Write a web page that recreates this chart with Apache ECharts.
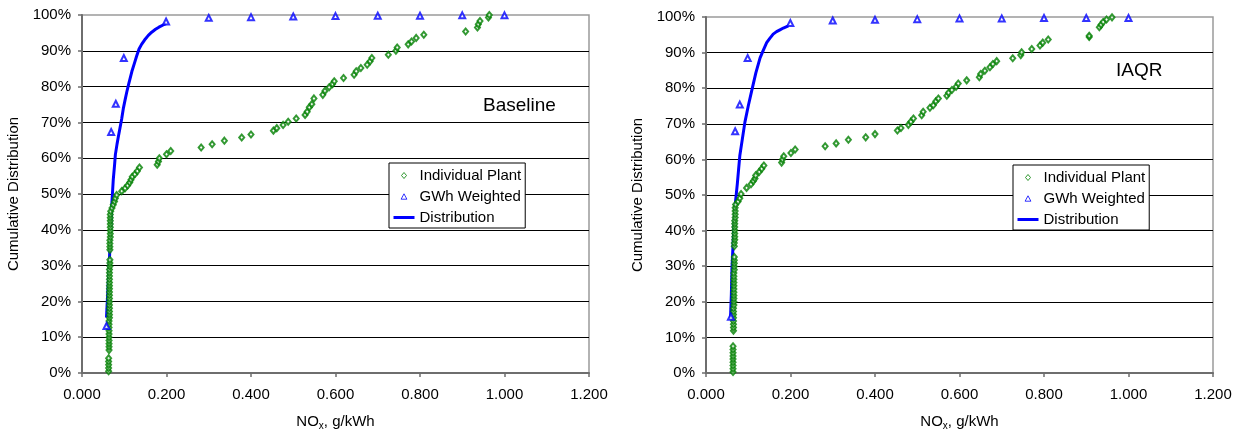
<!DOCTYPE html>
<html>
<head>
<meta charset="utf-8">
<script src="https://cdn.jsdelivr.net/npm/echarts@6/dist/echarts.min.js"></script>
<style>
html,body{margin:0;padding:0;background:#fff;}
#chart{width:1239px;height:436px;}
</style>
</head>
<body>
<div id="chart"></div>
<script>
// ---------- data ----------
const xTicks = [0, 0.2, 0.4, 0.6, 0.8, 1.0, 1.2];
const yTicks = [0, 10, 20, 30, 40, 50, 60, 70, 80, 90, 100];
const seriesNames = ['Individual Plant', 'GWh Weighted', 'Distribution'];
const panelTitles = ['Baseline', 'IAQR'];

const plantBaseline = [
 [0.063,0.5],[0.063,1.4],[0.063,2.3],[0.063,3.2],[0.063,4.1],
 [0.064,6.4],[0.064,7.3],[0.064,8.2],[0.064,9.1],[0.064,10.0],[0.064,10.9],[0.064,11.8],[0.064,12.7],[0.064,13.6],[0.064,14.5],
 [0.065,15.4],[0.065,16.3],[0.065,17.2],[0.065,18.1],[0.065,19.0],[0.065,19.9],[0.065,20.8],[0.065,21.7],[0.065,22.6],[0.065,23.5],
 [0.065,24.4],[0.065,25.3],[0.065,26.2],[0.065,27.1],[0.065,28.0],[0.065,28.9],[0.066,29.8],[0.066,30.7],[0.066,31.6],
 [0.066,34.4],[0.066,35.3],[0.066,36.2],[0.066,37.1],[0.067,38.0],[0.067,38.9],[0.067,39.8],[0.067,40.7],[0.067,41.6],
 [0.067,42.5],[0.067,43.4],[0.067,44.3],[0.068,45.2],
 [0.071,46.1],[0.074,47.0],[0.077,47.9],[0.079,48.8],[0.082,49.7],
 [0.094,50.8],[0.102,51.6],[0.108,52.4],[0.113,53.2],[0.116,54.0],[0.119,54.8],[0.125,55.5],[0.131,56.4],[0.136,57.4],
 [0.178,58.2],[0.181,59.1],[0.183,60.0],[0.200,61.1],[0.210,62.0],
 [0.282,63.0],[0.308,63.9],[0.337,64.9],[0.378,65.8],[0.400,66.6],
 [0.453,67.7],[0.461,68.4],[0.476,69.3],[0.488,70.2],[0.507,71.1],
 [0.528,72.1],[0.533,73.0],[0.538,74.2],[0.544,75.1],[0.549,76.7],[0.570,77.7],[0.575,78.8],[0.585,79.8],[0.593,80.7],
 [0.597,81.5],[0.619,82.4],[0.644,83.3],[0.649,84.3],[0.660,85.2],[0.675,86.1],[0.682,87.1],[0.686,88.0],[0.725,88.9],
 [0.743,90.0],[0.746,90.9],[0.772,91.8],[0.780,92.6],[0.791,93.6],[0.809,94.5],[0.908,95.4],[0.936,96.5],[0.938,97.4],
 [0.942,98.3],[0.962,99.3],[0.964,100]
];
const gwhBaseline = [
 [0.058,13.1],[0.069,67.3],[0.080,75.2],[0.099,88.0],[0.199,98.2],[0.3,99.2],[0.4,99.4],
 [0.5,99.6],[0.6,99.7],[0.7,99.8],[0.8,99.8],[0.9,99.9],[1.0,99.9]
];
const distBaseline = [
 [0.058,15.5],[0.062,25],[0.065,32],[0.066,35],[0.068,40],[0.070,46],[0.072,50],[0.074,54],[0.077,58],
 [0.079,61],[0.083,64],[0.086,66],[0.090,68.5],[0.094,71],[0.098,74],[0.102,76.3],[0.106,78.5],[0.110,80.5],
 [0.118,84.2],[0.124,86.5],[0.129,88.4],[0.135,90.5],[0.141,91.8],[0.148,93],[0.157,94.3],[0.165,95.2],
 [0.174,96],[0.182,96.6],[0.192,97.2],[0.199,97.6]
];

const plantIAQR = [
 [0.064,0.3],[0.064,1.2],[0.064,2.1],[0.064,3.0],[0.064,3.9],[0.064,4.8],[0.064,5.7],[0.064,6.6],[0.064,7.5],
 [0.065,11.9],[0.065,12.8],[0.065,13.7],[0.065,14.6],[0.065,15.5],[0.065,16.4],[0.065,17.3],[0.065,18.2],
 [0.066,19.1],[0.066,20.0],[0.066,20.9],[0.066,21.8],[0.066,22.7],[0.066,23.6],[0.066,24.5],[0.066,25.4],
 [0.066,26.3],[0.066,27.2],[0.066,28.1],[0.067,29.0],[0.067,29.9],[0.067,30.8],[0.067,31.7],[0.067,32.6],
 [0.067,35.6],[0.067,36.5],[0.068,37.4],[0.068,38.3],[0.068,39.2],[0.068,40.1],[0.068,41.0],[0.068,41.9],
 [0.068,42.8],[0.069,43.7],[0.069,44.6],[0.069,45.5],[0.069,46.4],[0.070,47.3],
 [0.076,48.2],[0.080,49.1],[0.083,50.3],
 [0.096,52.0],[0.1065,53.0],[0.112,53.9],[0.116,54.6],[0.1175,55.5],[0.126,56.5],[0.132,57.4],[0.137,58.3],
 [0.179,59.1],[0.181,60.0],[0.184,60.9],[0.201,61.8],[0.211,62.8],
 [0.282,63.7],[0.308,64.5],[0.337,65.5],[0.378,66.2],[0.400,67.1],
 [0.453,68.1],[0.4615,68.8],[0.479,69.7],[0.485,70.6],[0.491,71.5],[0.5105,72.4],[0.514,73.4],[0.530,74.5],
 [0.538,75.2],[0.544,76.3],[0.550,77.1],[0.570,77.9],[0.574,78.7],[0.582,79.5],[0.592,80.4],[0.597,81.3],
 [0.617,82.2],[0.647,83.1],[0.650,84.0],[0.660,84.9],[0.672,85.9],[0.679,86.8],[0.688,87.6],[0.726,88.4],
 [0.745,89.3],[0.747,90.1],[0.771,91.0],[0.7905,92.0],[0.797,92.8],[0.810,93.7],[0.907,94.4],[0.907,94.7],
 [0.931,97.1],[0.935,97.8],[0.940,98.6],[0.948,99.3],[0.961,99.9]
];
const gwhIAQR = [
 [0.059,15.8],[0.069,67.9],[0.080,75.4],[0.0986,88.5],[0.1996,98.3],[0.3,99.0],[0.4,99.2],
 [0.5,99.4],[0.6,99.6],[0.7,99.6],[0.8,99.7],[0.9,99.7],[1.0,99.7]
];
const distIAQR = [
 [0.058,15.6],[0.060,22],[0.0615,29.5],[0.064,36],[0.066,41],[0.068,46],[0.071,49.5],[0.074,53],[0.077,57],
 [0.080,61],[0.086,65.7],[0.092,70.4],[0.100,75],[0.108,79.2],[0.118,84.3],[0.128,88.5],[0.135,90.5],
 [0.1436,92.8],[0.151,94],[0.159,95.2],[0.167,95.9],[0.175,96.4],[0.183,96.9],[0.191,97.3],[0.195,97.5]
];

// ---------- chart ----------
const FONT = 'Liberation Sans, Arial, sans-serif';
const GREEN = '#008000', BLUE = '#0000ff';
const chart = echarts.init(document.getElementById('chart'), null, {renderer: 'canvas'});

const grids = [
  {left: 82, right: 650, top: 15, bottom: 62},
  {left: 706, right: 26, top: 17, bottom: 60}
];

function xAxisCfg(i) {
  return {
    type: 'value', gridIndex: i,
    min: xTicks[0], max: xTicks[xTicks.length - 1], interval: xTicks[1] - xTicks[0],
    name: '{a|NO}{b|x}{a|, g/kWh}', nameLocation: 'middle', nameGap: 40,
    nameTextStyle: {rich: {
      a: {fontFamily: FONT, fontSize: 15, color: '#000', lineHeight: 18},
      b: {fontFamily: FONT, fontSize: 10, color: '#000', verticalAlign: 'bottom', lineHeight: 12, padding: [6, 0, 0, 0]}
    }},
    axisLine: {show: true, onZero: false, lineStyle: {color: '#6e6e6e', width: 2}},
    axisTick: {show: true, inside: false, length: 4, lineStyle: {color: '#6e6e6e', width: 1.5}},
    axisLabel: {margin: 14, color: '#000', fontFamily: FONT, fontSize: 15,
      formatter: v => v.toFixed(3)},
    splitLine: {show: false}
  };
}
function yAxisCfg(i) {
  return {
    type: 'value', gridIndex: i,
    min: yTicks[0], max: yTicks[yTicks.length - 1], interval: yTicks[1] - yTicks[0],
    name: 'Cumulative Distribution', nameLocation: 'middle', nameGap: 61,
    nameTextStyle: {fontFamily: FONT, fontSize: 15, color: '#000'},
    axisLine: {show: true, onZero: false, lineStyle: {color: '#6e6e6e', width: 2}},
    axisTick: {show: true, inside: false, length: 4, lineStyle: {color: '#6e6e6e', width: 1.5}},
    axisLabel: {margin: 11, color: '#000', fontFamily: FONT, fontSize: 15, formatter: '{value}%'},
    splitLine: {show: true, showMinLine: false, showMaxLine: false, lineStyle: {color: '#000', width: 1}}
  };
}

function seriesFor(i, plant, gwh, dist) {
  return [
    {name: seriesNames[0], type: 'scatter', xAxisIndex: i, yAxisIndex: i, data: plant,
      symbol: 'emptyDiamond', symbolSize: [5, 6], z: 3,
      itemStyle: {color: GREEN, borderColor: GREEN, borderWidth: 1}},
    {name: seriesNames[1], type: 'scatter', xAxisIndex: i, yAxisIndex: i, data: gwh,
      symbol: 'emptyTriangle', symbolSize: [6, 6], z: 4,
      itemStyle: {color: BLUE, borderColor: BLUE, borderWidth: 1}},
    {name: seriesNames[2], type: 'line', xAxisIndex: i, yAxisIndex: i, data: dist,
      showSymbol: false, symbol: 'none', smooth: false, z: 2,
      lineStyle: {color: BLUE, width: 3}, itemStyle: {color: BLUE}}
  ];
}

// legend icons: paths whose bounding box equals the 21x8 icon box, so nothing is stretched
const ICON_DIAMOND = 'path://M0,0L0,0M21,8L21,8M8,4L10.5,1L13,4L10.5,7Z';
const ICON_TRIANGLE = 'path://M0,0L0,0M21,8L21,8M10.5,1.3L13.4,6.7L7.6,6.7Z';
const ICON_LINE = 'path://M0,0L0,0M21,8L21,8M0,2.5L21,2.5L21,5.5L0,5.5Z';

function legendCfg(left, top) {
  return {
    left: left, top: top, orient: 'vertical', selectedMode: false,
    backgroundColor: '#fff', borderColor: '#000', borderWidth: 1,
    padding: [4, 4, 2, 4], itemGap: 4, itemWidth: 21, itemHeight: 8,
    textStyle: {fontFamily: FONT, fontSize: 15, color: '#000', lineHeight: 17},
    data: [
      {name: seriesNames[0], icon: ICON_DIAMOND,
        itemStyle: {color: '#fff', borderColor: GREEN, borderWidth: 1}},
      {name: seriesNames[1], icon: ICON_TRIANGLE,
        itemStyle: {color: '#fff', borderColor: BLUE, borderWidth: 1}},
      {name: seriesNames[2], icon: ICON_LINE,
        itemStyle: {color: BLUE, borderWidth: 0}, lineStyle: {width: 0}}
    ]
  };
}

const option = {
  backgroundColor: '#fff',
  animation: false,
  grid: grids.map(g => Object.assign({show: true, borderColor: '#9a9a9a', borderWidth: 1.5, backgroundColor: 'transparent'}, g)),
  xAxis: [xAxisCfg(0), xAxisCfg(1)],
  yAxis: [yAxisCfg(0), yAxisCfg(1)],
  legend: [legendCfg(389, 163), legendCfg(1013, 165)],
  graphic: [
    {type: 'text', left: 483, top: 96, z: 10,
      style: {text: panelTitles[0], fontFamily: FONT, fontSize: 19, fill: '#000'}},
    {type: 'text', left: 1116, top: 61, z: 10,
      style: {text: panelTitles[1], fontFamily: FONT, fontSize: 19, fill: '#000'}}
  ],
  series: [].concat(
    seriesFor(0, plantBaseline, gwhBaseline, distBaseline),
    seriesFor(1, plantIAQR, gwhIAQR, distIAQR)
  )
};
chart.setOption(option);
</script>
</body>
</html>
